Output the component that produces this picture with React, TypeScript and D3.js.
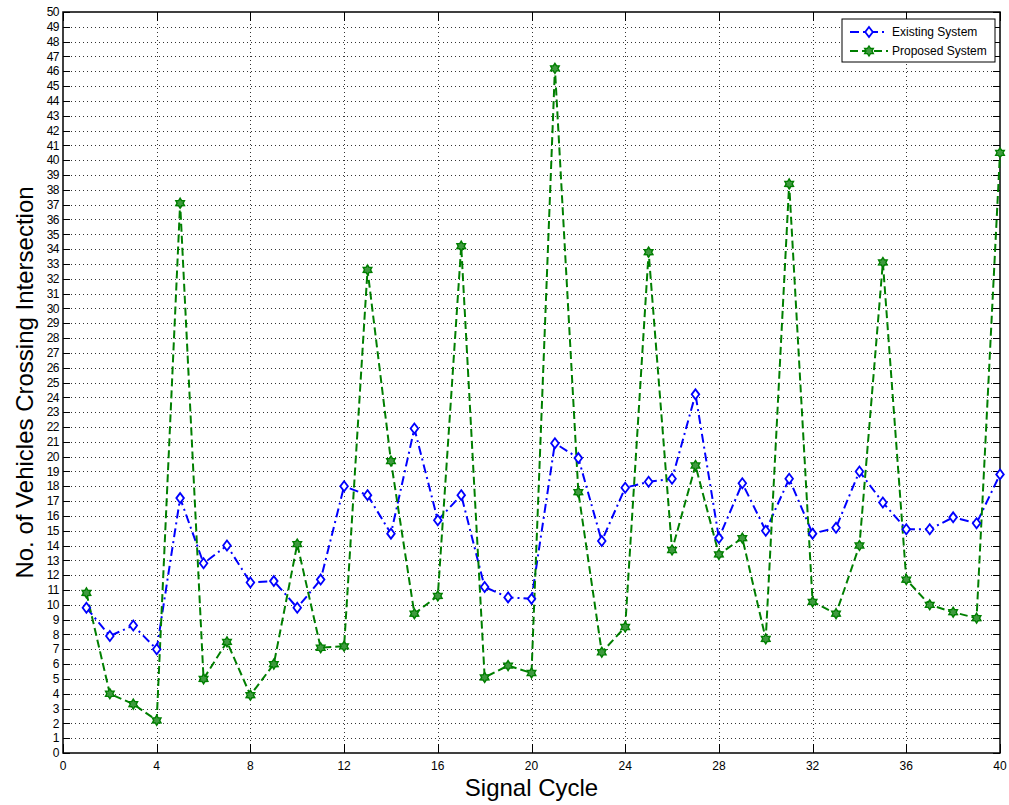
import React from 'react';
import * as d3 from 'd3';

const cycles = d3.range(1, 41);
const existingSystem = [
  9.8, 7.9, 8.6, 7.0, 17.2, 12.8, 14.0, 11.5, 11.6, 9.8,
  11.7, 18.0, 17.4, 14.8, 21.9, 15.7, 17.4, 11.2, 10.5, 10.4,
  20.9, 19.9, 14.3, 17.9, 18.3, 18.5, 24.2, 14.5, 18.2, 15.0,
  18.5, 14.8, 15.2, 19.0, 16.9, 15.1, 15.1, 15.9, 15.5, 18.8,
];
const proposedSystem = [
  10.8, 4.0, 3.3, 2.2, 37.1, 5.0, 7.5, 3.9, 6.0, 14.1,
  7.1, 7.2, 32.6, 19.7, 9.4, 10.6, 34.2, 5.1, 5.9, 5.4,
  46.2, 17.6, 6.8, 8.5, 33.8, 13.7, 19.4, 13.4, 14.5, 7.7,
  38.4, 10.2, 9.4, 14.0, 33.1, 11.7, 10.0, 9.5, 9.1, 40.5,
];
const xTicks = d3.range(0, 41, 4);
const yTicks = d3.range(0, 51, 1);

const W = 1009;
const H = 805;
const margin = { left: 63, right: 9, top: 12, bottom: 52 };
const font = '"Liberation Sans", Arial, sans-serif';

// six-pointed star centered at 0,0
const hexagram = (r: number) => {
  const pts: string[] = [];
  for (let i = 0; i < 12; i++) {
    const a = (Math.PI / 6) * i - Math.PI / 2;
    const rr = i % 2 === 0 ? r : r * 0.6;
    pts.push(`${(rr * Math.cos(a)).toFixed(2)},${(rr * Math.sin(a)).toFixed(2)}`);
  }
  return 'M' + pts.join('L') + 'Z';
};

const diamond = 'M0,-5L3.8,0L0,5L-3.8,0Z';

const App = () => {
  const x = d3.scaleLinear().domain([0, 40]).range([margin.left, W - margin.right]);
  const y = d3.scaleLinear().domain([0, 50]).range([H - margin.bottom, margin.top]);
  const [x0, x1] = x.range();
  const [y0, y1] = y.range();

  const line = d3
    .line<number>()
    .x((_, i) => x(cycles[i]))
    .y((d) => y(d));

  const blue = '#0000ff';
  const green = '#007f00';
  const star = hexagram(5);

  return (
    <svg width={W} height={H} style={{ position: 'absolute', left: 0, top: 0, background: '#fff' }}>
      <rect x={0} y={0} width={W} height={H} fill="#fff" />
      {/* grid */}
      <g stroke="#333" strokeWidth={1} strokeDasharray="1,3">
        {yTicks.slice(1, -1).map((t) => (
          <line key={'gy' + t} x1={x0} x2={x1} y1={Math.round(y(t)) + 0.5} y2={Math.round(y(t)) + 0.5} />
        ))}
        {xTicks.slice(1, -1).map((t) => (
          <line key={'gx' + t} y1={y0} y2={y1} x1={Math.round(x(t)) + 0.5} x2={Math.round(x(t)) + 0.5} />
        ))}
      </g>
      {/* ticks */}
      <g stroke="#000" strokeWidth={1}>
        {yTicks.map((t) => (
          <g key={'ty' + t}>
            <line x1={x0} x2={x0 + 7} y1={Math.round(y(t)) + 0.5} y2={Math.round(y(t)) + 0.5} />
            <line x1={x1 - 7} x2={x1} y1={Math.round(y(t)) + 0.5} y2={Math.round(y(t)) + 0.5} />
          </g>
        ))}
        {xTicks.map((t) => (
          <g key={'tx' + t}>
            <line y1={y0} y2={y0 - 9} x1={Math.round(x(t)) + 0.5} x2={Math.round(x(t)) + 0.5} />
            <line y1={y1} y2={y1 + 9} x1={Math.round(x(t)) + 0.5} x2={Math.round(x(t)) + 0.5} />
          </g>
        ))}
      </g>
      <rect x={x0} y={y1} width={x1 - x0} height={y0 - y1} fill="none" stroke="#000" strokeWidth={1.5} />
      {/* tick labels */}
      <g fontFamily={font} fontSize={12} fill="#000">
        {yTicks.map((t) => (
          <text key={'ly' + t} x={x0 - 4} y={y(t)} dy="0.35em" textAnchor="end" letterSpacing={-0.5}>
            {t}
          </text>
        ))}
        {xTicks.map((t) => (
          <text key={'lx' + t} x={x(t)} y={y0 + 17} textAnchor="middle">
            {t}
          </text>
        ))}
      </g>
      {/* series */}
      <path d={line(existingSystem) || ''} fill="none" stroke={blue} strokeWidth={2} strokeDasharray="9,4,2,4" />
      <path d={line(proposedSystem) || ''} fill="none" stroke={green} strokeWidth={2} strokeDasharray="8,4" />
      {existingSystem.map((v, i) => (
        <path
          key={'me' + i}
          d={diamond}
          transform={`translate(${x(cycles[i])},${y(v)})`}
          fill="#fff"
          stroke={blue}
          strokeWidth={1.8}
        />
      ))}
      {proposedSystem.map((v, i) => (
        <path
          key={'mp' + i}
          d={star}
          transform={`translate(${x(cycles[i])},${y(v)})`}
          fill="#3f9a3f"
          stroke={green}
          strokeWidth={1.4}
        />
      ))}
      {/* legend */}
      <g>
        <rect x={842} y={19} width={153} height={43} fill="#fff" stroke="#000" strokeWidth={1} />
        <line x1={850} x2={888} y1={32} y2={32} stroke={blue} strokeWidth={2} strokeDasharray="9,4,2,4" />
        <path d={diamond} transform="translate(869,32)" fill="#fff" stroke={blue} strokeWidth={1.8} />
        <line x1={850} x2={888} y1={51} y2={51} stroke={green} strokeWidth={2} strokeDasharray="8,4" />
        <path d={star} transform="translate(869,51)" fill="#3f9a3f" stroke={green} strokeWidth={1.4} />
        <text x={892} y={32} dy="0.35em" fontFamily={font} fontSize={12}>Existing System</text>
        <text x={892} y={51} dy="0.35em" fontFamily={font} fontSize={12}>Proposed System</text>
      </g>
      {/* axis titles */}
      <text x={(x0 + x1) / 2} y={796} textAnchor="middle" fontFamily={font} fontSize={24}>
        Signal Cycle
      </text>
      <text
        transform={`translate(33,${(y0 + y1) / 2}) rotate(-90)`}
        textAnchor="middle"
        fontFamily={font}
        fontSize={24}
      >
        No. of Vehicles Crossing Intersection
      </text>
    </svg>
  );
};

export default App;
